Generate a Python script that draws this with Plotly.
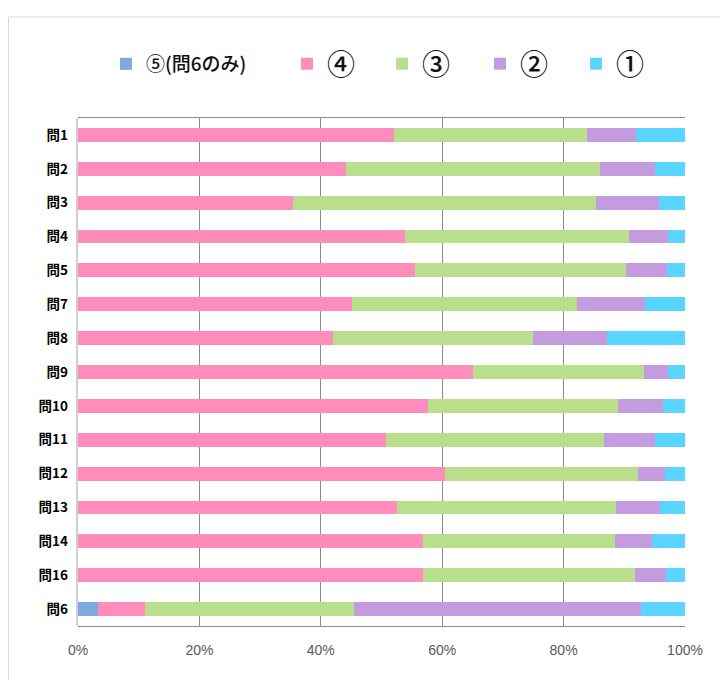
import plotly.graph_objects as go

categories = ["問1", "問2", "問3", "問4", "問5", "問7", "問8", "問9",
              "問10", "問11", "問12", "問13", "問14", "問16", "問6"]
series_names = ["⑤(問6のみ)", "④", "③", "②", "①"]
s5 = [None] * 14 + [3.3]
s4 = [52.1, 44.1, 35.5, 53.8, 55.5, 45.2, 42.0, 65.0, 57.6, 50.8, 60.4, 52.5, 56.8, 56.8, 7.8]
s3 = [31.8, 41.9, 49.8, 36.9, 34.7, 37.0, 33.0, 28.2, 31.3, 35.8, 31.9, 36.1, 31.6, 35.0, 34.3]
s2 = [8.0, 9.0, 10.4, 6.5, 6.8, 11.2, 12.2, 4.0, 7.4, 8.4, 4.4, 7.3, 6.1, 5.0, 47.3]
s1 = [8.1, 5.0, 4.3, 2.8, 3.0, 6.6, 12.8, 2.8, 3.7, 5.0, 3.3, 4.1, 5.5, 3.2, 7.3]
tick_vals = [0, 20, 40, 60, 80, 100]
tick_text = ["0%", "20%", "40%", "60%", "80%", "100%"]

colors = ["#7FA8DE", "#FF8CBA", "#BADF8C", "#C39BDE", "#5AD5FF"]
values = [s5, s4, s3, s2, s1]
legend_ids = ["legend", "legend2", "legend3", "legend4", "legend5"]

OFF = 8  # page body margin
W, H = 720, 672
L, R, T, B = 78 - OFF, 43, 118 - OFF, 54
pw, ph = W - L - R, H - T - B

def px_x(p):
    return (p - OFF - L) / pw

def px_y(p):
    return (H - B - (p - OFF)) / ph

fig = go.Figure()
for name, vals, col, lg in zip(series_names, values, colors, legend_ids):
    fig.add_trace(go.Bar(
        y=categories, x=vals, name=name, orientation="h",
        marker=dict(color=col, line=dict(width=0)),
        legend=lg,
    ))

jp = "Noto Sans CJK JP"
legend_text_x = [146, 327, 422, 520, 616]
legend_sizes = [19, 28, 28, 28, 28]
legends = {}
for lg, tx, fs in zip(legend_ids, legend_text_x, legend_sizes):
    legends[lg] = dict(
        x=px_x(tx - 40), y=px_y(64), xanchor="left", yanchor="middle",
        orientation="h", bgcolor="rgba(0,0,0,0)", borderwidth=0,
        font=dict(family=jp, size=fs, color="#111111", weight=500),
    )

fig.update_layout(
    width=W, height=H,
    margin=dict(l=L, r=R, t=T, b=B, pad=0),
    paper_bgcolor="white", plot_bgcolor="white",
    barmode="stack", bargap=0.59,
    showlegend=True,
    **legends,
    xaxis=dict(
        range=[0, 100], tickvals=tick_vals, ticktext=tick_text,
        showgrid=True, gridcolor="#8c8c8c", gridwidth=1.3,
        zeroline=False, showline=True, linecolor="#8c8c8c", linewidth=1.3,
        mirror=True, ticks="", ticklabelstandoff=11,
        tickfont=dict(family="Liberation Sans", size=14, color="#595959"),
        fixedrange=True,
    ),
    yaxis=dict(
        categoryorder="array", categoryarray=categories, autorange="reversed",
        showgrid=False, zeroline=False, showline=False, ticks="",
        ticklabelstandoff=9,
        tickfont=dict(family=jp, size=13.5, color="black", weight="bold"),
        fixedrange=True,
    ),
    shapes=[
        dict(type="rect", xref="paper", yref="paper",
             x0=px_x(8.5), x1=px_x(760), y0=px_y(720), y1=px_y(17),
             line=dict(color="#d9d9d9", width=1), fillcolor="rgba(0,0,0,0)",
             layer="below"),
        dict(type="line", xref="paper", yref="paper",
             x0=px_x(77), x1=px_x(77), y0=0, y1=1,
             line=dict(color="#d0d0d0", width=2)),
    ],
)

fig.write_html("out.html")
